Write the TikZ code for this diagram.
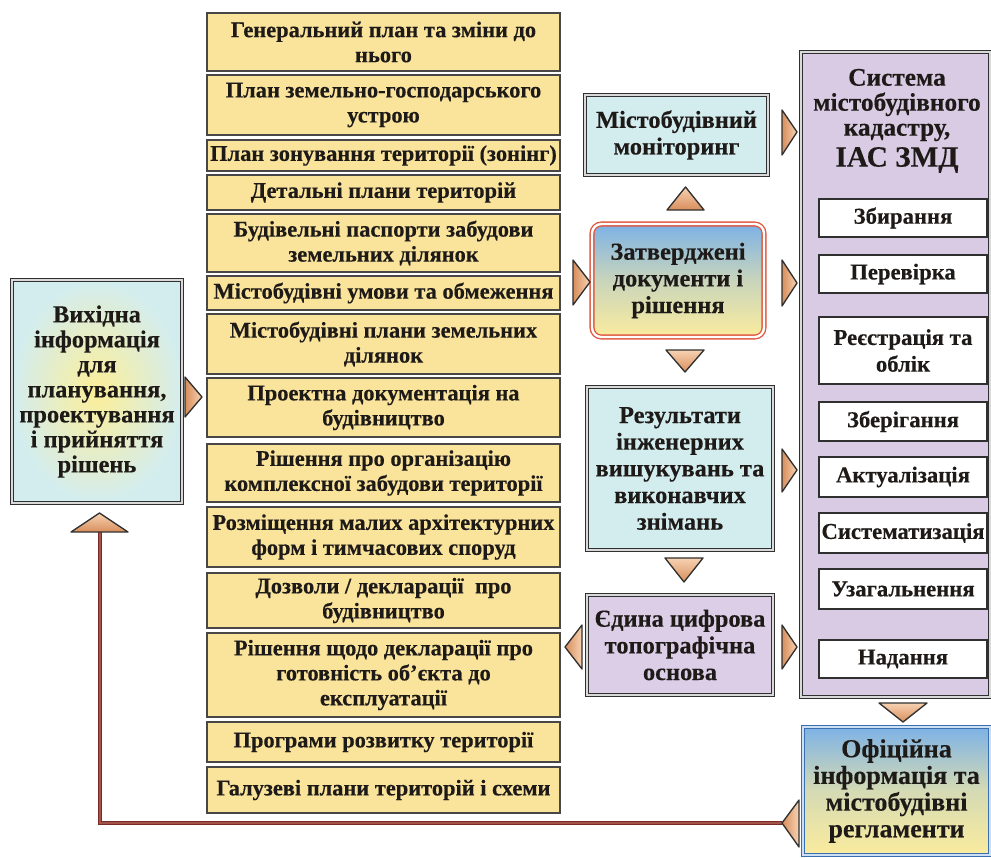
\documentclass[tikz,border=0pt]{standalone}
\usepackage{fontspec}
\setmainfont{Liberation Serif}[BoldFeatures={FakeBold=0.3}]
\definecolor{ylw}{HTML}{FAE49C}
\definecolor{cyanb}{HTML}{D3EDEF}
\definecolor{lav}{HTML}{DBCEE6}
\definecolor{lavbig}{HTML}{D9CBE4}
\definecolor{edge}{HTML}{303030}
\definecolor{txt}{HTML}{1E1A18}
\definecolor{tria}{HTML}{F7D2B2}
\definecolor{trib}{HTML}{D88E5C}
\definecolor{brn}{HTML}{7A2B26}
\definecolor{brnl}{HTML}{A4534A}
\definecolor{redb}{HTML}{E0573F}
\definecolor{blueb}{HTML}{3C6FB0}
\definecolor{skyt}{HTML}{7DB2E6}
\definecolor{ylwb}{HTML}{FBEC9E}
\definecolor{glow}{HTML}{FCEE98}
\newcommand\fy{\fontsize{16.8}{18.75}\selectfont\bfseries\color{txt}}
\newcommand\fm{\fontsize{18.3}{20}\selectfont\bfseries\color{txt}}
\newcommand\fl{\fontsize{18.3}{18.75}\selectfont\bfseries\color{txt}}
\newcommand\fw{\fontsize{17}{20}\selectfont\bfseries\color{txt}}
\newcommand\ft{\fontsize{19}{18.75}\selectfont\bfseries\color{txt}}
\newcommand\fo{\fontsize{19.5}{20}\selectfont\bfseries\color{txt}}
\newcommand\fsb{\fontsize{22}{24}\selectfont\bfseries\color{txt}}
\tikzset{
  hh/.style={minimum height=#1*0.75pt},
  ww/.style={minimum width=#1*0.75pt},
  base/.style={inner sep=0pt, align=center, font=\fm},
  yb/.style={base, font=\fy, draw=black!72, line width=1.3pt, fill=ylw, ww=353},
  dbl/.style={base, draw=edge, line width=1pt, double=gray!30, double distance=1.4pt},
  cyb/.style={dbl, fill=cyanb},
  lvb/.style={dbl, fill=lav},
  wb/.style={base, font=\fw, draw=edge, line width=1.2pt, fill=white, ww=168},
  triH/.style={draw=edge, line width=1pt, left color=trib, right color=tria, line join=round},
  triV/.style={draw=edge, line width=1pt, top color=tria, bottom color=trib, line join=round},
}
\begin{document}
\begin{tikzpicture}[x=0.75pt,y=-0.75pt]
\useasboundingbox (0,0) rectangle (991,857);
% left box
\node[dbl, font=\fl, ww=170, hh=223, inner color=glow, outer color=cyanb] (src) at (97,391.5)
  {Вихідна\\інформація\\для\\планування,\\проектування\\і прийняття\\рішень};
% yellow column
\node[yb,hh=58] (y1) at (383.5,42) {Генеральний план та зміни до\\нього};
\node[yb,hh=60] (y2) at (383.5,105) {План земельно-господарського\\устрою};
\node[yb,hh=31] (y3) at (383.5,155.5) {План зонування території (зонінг)};
\node[yb,hh=35] (y4) at (383.5,192.5) {Детальні плани територій};
\node[yb,hh=58] (y5) at (383.5,243) {Будівельні паспорти забудови\\земельних ділянок};
\node[yb,hh=34] (y6) at (383.5,293) {Містобудівні умови та обмеження};
\node[yb,hh=60] (y7) at (383.5,344) {Містобудівні плани земельних\\ділянок};
\node[yb,hh=59] (y8) at (383.5,407.5) {Проектна документація на\\будівництво};
\node[yb,hh=58] (y9) at (383.5,473) {Рішення про організацію\\комплексної забудови території};
\node[yb,hh=60] (y10) at (383.5,537) {Розміщення малих архітектурних\\форм і тимчасових споруд};
\node[yb,hh=55] (y11) at (383.5,600.5) {Дозволи / декларації\ \ про\\будівництво};
\node[yb,hh=84] (y12) at (383.5,675) {Рішення щодо декларації про\\готовність об’єкта до\\експлуатації};
\node[yb,hh=40] (y13) at (383.5,742) {Програми розвитку території};
\node[yb,hh=46] (y14) at (383.5,790) {Галузеві плани територій і схеми};
% middle column
\node[cyb, ww=183, hh=80] (mon) at (676.5,135) {Містобудівний\\моніторинг};
\node[base, ww=172, hh=113, rounded corners=7pt, draw=redb, line width=1pt, double=white, double distance=1.8pt,
  top color=skyt, bottom color=ylwb, middle color=ylwb!60!skyt] (appr) at (678,280.5) {Затверджені\\документи і\\рішення};
\node[cyb, ww=186, hh=163] (res) at (680,468.5) {Результати\\інженерних\\вишукувань та\\виконавчих\\знімань};
\node[lvb, ww=186, hh=100] (topo) at (680,645) {Єдина цифрова\\топографічна\\основа};
% right column
\node[dbl, ww=189, hh=645, fill=lavbig] (sys) at (895.5,374.5) {};
\node[base, font=\ft] (syst) at (897,105) {Система\\містобудівного\\кадастру,};
\node[base, font=\fsb] (syst2) at (897,160) {ІАС ЗМД};
\node[wb, hh=38] (w1) at (903,218) {Збирання};
\node[wb, hh=38] (w2) at (903,274) {Перевірка};
\node[wb, hh=67] (w3) at (903,350.5) {Реєстрація та\\облік};
\node[wb, hh=39] (w4) at (903,421.5) {Зберігання};
\node[wb, hh=40] (w5) at (903,477) {Актуалізація};
\node[wb, hh=40] (w6) at (903,533) {Систематизація};
\node[wb, hh=40] (w7) at (903,589) {Узагальнення};
\node[wb, hh=38] (w8) at (903,659) {Надання};
\node[base, font=\fo, ww=187, hh=128, draw=blueb, line width=1pt, double=skyt!40, double distance=1.4pt,
  top color=skyt, bottom color=ylwb, middle color=ylwb!70!skyt] (off) at (896.5,791)
  {Офіційна\\інформація та\\містобудівні\\регламенти};
% triangles
\draw[triH] (185,377) -- (202,397) -- (185,417) -- cycle;
\draw[triH] (573,260) -- (590,282) -- (573,305) -- cycle;
\draw[triH] (782,110) -- (797,132) -- (782,155) -- cycle;
\draw[triH] (782,260) -- (797,283) -- (782,306) -- cycle;
\draw[triH] (782,449) -- (797,470) -- (782,492) -- cycle;
\draw[triH] (782,625) -- (797,647) -- (782,669) -- cycle;
\draw[triH] (582,625) -- (565,647) -- (582,669) -- cycle;
\draw[triV] (667,210) -- (685.5,187) -- (704,210) -- cycle;
\draw[triV] (666,350) -- (685,372) -- (704,350) -- cycle;
\draw[triV] (665,558) -- (684,582) -- (703,558) -- cycle;
\draw[triV] (879,703) -- (903,722) -- (927,703) -- cycle;
\coordinate (offtip) at (782,823);
\coordinate (uptip) at (100,532);
\draw[brn, line width=1.1pt, double=brnl, double distance=1.2pt] (offtip) -| (uptip);
\draw[triH] (799,800) -- (782,823) -- (799,847) -- cycle;
\draw[triV] (71,532) -- (99.5,513) -- (128,532) -- cycle;
\end{tikzpicture}
\end{document}
